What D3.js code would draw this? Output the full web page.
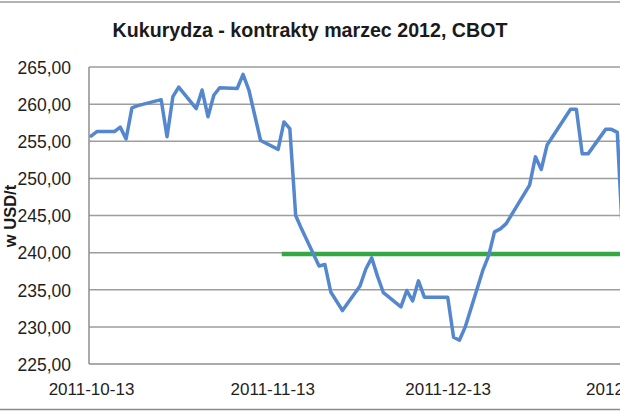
<!DOCTYPE html>
<html><head><meta charset="utf-8">
<script src="https://cdn.jsdelivr.net/npm/d3@7/dist/d3.min.js"></script>
<style>
html,body{margin:0;padding:0;background:#fff;}
svg{display:block;}
</style></head>
<body>
<script>
const title = "Kukurydza - kontrakty marzec 2012, CBOT";
const yTitle = "w USD/t";
const dates = [
 "2011-10-13","2011-10-14","2011-10-17","2011-10-18","2011-10-19","2011-10-20","2011-10-21","2011-10-24","2011-10-25","2011-10-26","2011-10-27","2011-10-28",
 "2011-10-31","2011-11-01","2011-11-02","2011-11-03","2011-11-04","2011-11-07","2011-11-08","2011-11-09","2011-11-10","2011-11-11",
 "2011-11-14","2011-11-15","2011-11-16","2011-11-17","2011-11-18","2011-11-21","2011-11-22","2011-11-23","2011-11-25",
 "2011-11-28","2011-11-29","2011-11-30","2011-12-01","2011-12-02","2011-12-05","2011-12-06","2011-12-07","2011-12-08","2011-12-09",
 "2011-12-12","2011-12-13","2011-12-14","2011-12-15","2011-12-16","2011-12-19","2011-12-20","2011-12-21","2011-12-22","2011-12-23",
 "2011-12-27","2011-12-28","2011-12-29","2011-12-30","2012-01-03","2012-01-04","2012-01-05","2012-01-06","2012-01-09","2012-01-10","2012-01-11","2012-01-12"
];
const prices = [
 255.7,256.3,256.3,256.9,255.3,259.5,259.8,260.4,260.6,255.6,261.0,262.3,
 259.4,261.9,258.3,261.2,262.2,262.1,264.0,261.9,258.5,255.1,
 253.9,257.6,256.7,245.0,243.2,238.2,238.4,234.7,232.2,
 235.5,237.8,239.3,236.8,234.6,232.7,234.9,233.5,236.2,234.0,
 234.0,234.0,228.6,228.2,230.0,237.6,239.6,242.8,243.2,243.9,
 249.1,252.9,251.2,254.5,259.3,259.3,253.3,253.3,256.6,256.6,256.2,240.6
];
const refDates = ["2011-11-15","2012-01-31"];
const refValues = [239.8, 239.8];
const xTickLabels = ["2011-10-13","2011-11-13","2011-12-13","2012-01-13"];
const yTicks = [225,230,235,240,245,250,255,260,265];

const W = 620, H = 413;
const parse = d3.timeParse("%Y-%m-%d");
const svg = d3.select("body").append("svg").attr("width", W).attr("height", H);

const x = d3.scaleTime().domain([parse("2011-10-13"), parse("2012-01-13")]).range([91, 629]);
const y = d3.scaleLinear().domain([225, 265]).range([364, 67]);
const left = 89, right = 660;

// frame lines (chart border, cropped)
svg.append("line").attr("x1",0).attr("x2",W).attr("y1",2).attr("y2",2).attr("stroke","#9a9a9a").attr("stroke-width",1.5);
svg.append("line").attr("x1",0).attr("x2",W).attr("y1",409.5).attr("y2",409.5).attr("stroke","#8a8a8a").attr("stroke-width",1.5);

// gridlines
svg.append("g").selectAll("line").data(yTicks.filter(d => d > 225)).join("line")
  .attr("x1", left).attr("x2", right)
  .attr("y1", d => y(d)).attr("y2", d => y(d))
  .attr("stroke", "#9d9d9d").attr("stroke-width", 1.5);

// axis lines
svg.append("line").attr("x1",left).attr("x2",right).attr("y1",y(225)).attr("y2",y(225)).attr("stroke","#8e8e8e").attr("stroke-width",1.5);
svg.append("line").attr("x1",left).attr("x2",left).attr("y1",y(265)).attr("y2",y(225)).attr("stroke","#8e8e8e").attr("stroke-width",1.5);

const fmt = d => d3.format(".2f")(d).replace(".", ",");
const yAxis = svg.append("g").attr("transform", `translate(${left},0)`)
  .call(d3.axisLeft(y).tickValues(yTicks).tickSize(0).tickPadding(18).tickFormat(fmt));
yAxis.select(".domain").remove();
yAxis.selectAll("text").attr("font-family","Liberation Sans, Arial, sans-serif").attr("font-size",17.5).attr("fill","#1e1e1e").attr("dy","0.36em");

const xAxis = svg.append("g").attr("transform", `translate(0,${y(225)})`)
  .call(d3.axisBottom(x).tickValues(xTickLabels.map(parse)).tickSize(0).tickPadding(19).tickFormat(d3.timeFormat("%Y-%m-%d")));
xAxis.select(".domain").remove();
xAxis.selectAll("text").attr("font-family","Liberation Sans, Arial, sans-serif").attr("font-size",17).attr("fill","#1e1e1e");

// reference (green) line
const line = d3.line().x(d => x(d[0])).y(d => y(d[1]));
svg.append("path").datum(refDates.map((d,i) => [parse(d), refValues[i]]))
  .attr("d", line).attr("fill","none").attr("stroke","#35a843").attr("stroke-width",4.5).attr("stroke-linecap","square");

// price line
svg.append("path").datum(dates.map((d,i) => [parse(d), prices[i]]))
  .attr("d", line).attr("fill","none").attr("stroke","#5587cf").attr("stroke-width",3.5)
  .attr("stroke-linejoin","round").attr("stroke-linecap","round");

// title
const t = svg.append("text").attr("x", 310).attr("y", 37).attr("text-anchor","middle")
  .attr("font-family","Liberation Sans, Arial, sans-serif").attr("font-weight","bold").attr("font-size",16)
  .attr("fill","#1a1a1a").text(title);
const tw = t.node().getComputedTextLength();
t.attr("font-size", 16 * 395 / tw);

// y title
svg.append("text").attr("transform","translate(15.5,216) rotate(-90)").attr("text-anchor","middle")
  .attr("font-family","Liberation Sans, Arial, sans-serif").attr("font-weight","bold").attr("font-size",16.5)
  .attr("fill","#1a1a1a").text(yTitle);
</script>
</body></html>
